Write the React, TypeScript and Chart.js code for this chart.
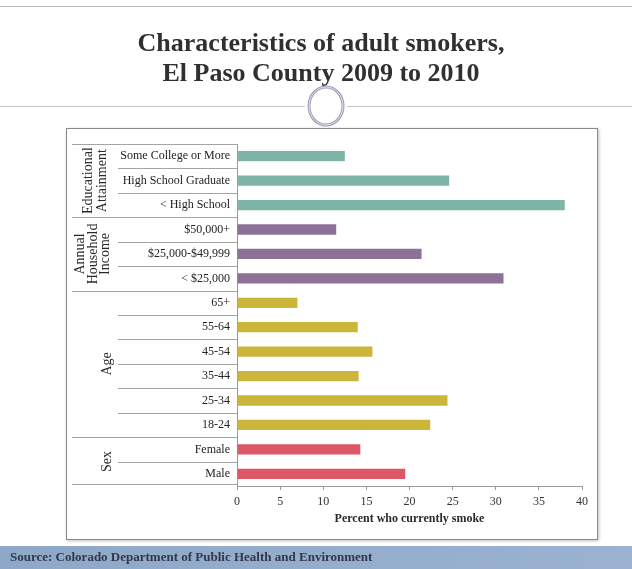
import React, { useEffect, useRef } from "react";
import { Chart, registerables } from "chart.js";

Chart.register(...registerables);

// Rows, top to bottom
const categories = [
  "Some College or More",
  "High School Graduate",
  "< High School",
  "$50,000+",
  "$25,000-$49,999",
  "< $25,000",
  "65+",
  "55-64",
  "45-54",
  "35-44",
  "25-34",
  "18-24",
  "Female",
  "Male",
];

// Percent who currently smoke
const smokerPercent = [12.5, 24.6, 38.0, 11.5, 21.4, 30.9, 7.0, 14.0, 15.7, 14.1, 24.4, 22.4, 14.3, 19.5];

// Characteristic groups: label lines, first row, last row, bar colour
const groupLabels = [["Educational", "Attainment"], ["Annual", "Household", "Income"], ["Age"], ["Sex"]];
const groupStart = [0, 3, 6, 12];
const groupEnd = [2, 5, 11, 13];
const groupColors = ["#7fb5a7", "#8d7197", "#cbb63a", "#dd5767"];

const xTicksMax = 40;
const xTickStep = 5;

const titleLines = ["Characteristics of adult smokers,", "El Paso County 2009 to 2010"];
const xAxisTitle = "Percent who currently smoke";
const sourceNote = "Source: Colorado Department of Public Health and Environment";

const SERIF = "'Liberation Serif', 'DejaVu Serif', serif";

function barColors(): string[] {
  const out: string[] = [];
  categories.forEach((_, i) => {
    const g = groupStart.findIndex((s, k) => i >= s && i <= groupEnd[k]);
    out.push(groupColors[g]);
  });
  return out;
}

const decorPlugin = {
  id: "slideDecor",
  beforeDraw(chart: any) {
    const ctx = chart.ctx as CanvasRenderingContext2D;
    const W = chart.width;
    const H = chart.height;
    ctx.save();
    ctx.fillStyle = "#ffffff";
    ctx.fillRect(0, 0, W, H);

    // thin rule at top
    ctx.strokeStyle = "#b9b9b9";
    ctx.lineWidth = 1;
    ctx.beginPath();
    ctx.moveTo(0, 6.5);
    ctx.lineTo(W, 6.5);
    ctx.stroke();

    // title
    ctx.fillStyle = "#303030";
    ctx.font = `bold 26px ${SERIF}`;
    ctx.textAlign = "center";
    ctx.textBaseline = "alphabetic";
    ctx.fillText(titleLines[0], 321, 51);
    ctx.fillText(titleLines[1], 321, 81);

    // divider with ring
    const cx = 326;
    const cy = 106;
    ctx.strokeStyle = "#c4c4c4";
    ctx.lineWidth = 1;
    ctx.beginPath();
    ctx.moveTo(0, cy + 0.5);
    ctx.lineTo(cx - 21, cy + 0.5);
    ctx.moveTo(cx + 21, cy + 0.5);
    ctx.lineTo(W, cy + 0.5);
    ctx.stroke();
    ctx.strokeStyle = "#9c9cb8";
    ctx.lineWidth = 3;
    ctx.beginPath();
    ctx.ellipse(cx, cy, 17, 19, 0, 0, Math.PI * 2);
    ctx.stroke();
    ctx.strokeStyle = "#e6e6ee";
    ctx.lineWidth = 1;
    ctx.beginPath();
    ctx.ellipse(cx, cy, 17, 19, 0, 0, Math.PI * 2);
    ctx.stroke();

    // chart frame
    ctx.shadowColor = "rgba(0,0,0,0.25)";
    ctx.shadowBlur = 3;
    ctx.shadowOffsetX = 1;
    ctx.shadowOffsetY = 1;
    ctx.fillStyle = "#ffffff";
    ctx.fillRect(66, 128, 532, 412);
    ctx.shadowColor = "transparent";
    ctx.strokeStyle = "#8a8a8a";
    ctx.lineWidth = 1;
    ctx.strokeRect(66.5, 128.5, 531, 411);

    // source band
    const grad = ctx.createLinearGradient(0, 0, W, 0);
    grad.addColorStop(0, "#8ea8c9");
    grad.addColorStop(1, "#9bb2d1");
    ctx.fillStyle = grad;
    ctx.fillRect(0, 546, W, H - 546);
    ctx.fillStyle = "#33374a";
    ctx.font = `bold 13px ${SERIF}`;
    ctx.textAlign = "left";
    ctx.textBaseline = "middle";
    ctx.fillText(sourceNote, 10, 558);
    ctx.restore();
  },
  afterDraw(chart: any) {
    const ctx = chart.ctx as CanvasRenderingContext2D;
    const yScale = chart.scales.y;
    const area = chart.chartArea;
    const left = area.left;
    const pix = (i: number) => yScale.getPixelForValue(i);
    const boundary = (i: number) => {
      if (i < 0) return area.top;
      if (i >= categories.length - 1) return area.bottom;
      return (pix(i) + pix(i + 1)) / 2;
    };
    ctx.save();
    ctx.strokeStyle = "#a5a5a5";
    ctx.lineWidth = 1;
    // row dividers inside each group
    categories.forEach((_, i) => {
      if (i === categories.length - 1) return;
      const isGroupEnd = groupEnd.includes(i);
      const y = Math.round(boundary(i)) + 0.5;
      ctx.beginPath();
      ctx.moveTo(isGroupEnd ? 72 : 118, y);
      ctx.lineTo(left, y);
      ctx.stroke();
    });
    // top and bottom table rules
    [area.top, area.bottom - 2].forEach((yy) => {
      const y = Math.round(yy) + 0.5;
      ctx.beginPath();
      ctx.moveTo(72, y);
      ctx.lineTo(left, y);
      ctx.stroke();
    });

    // rotated group names
    ctx.fillStyle = "#2a2a2a";
    ctx.font = `14px ${SERIF}`;
    ctx.textAlign = "center";
    ctx.textBaseline = "middle";
    const colX = [[88, 102], [80, 93, 105], [107], [107]];
    groupLabels.forEach((lines, g) => {
      const yc = (boundary(groupStart[g] - 1) + boundary(groupEnd[g])) / 2;
      lines.forEach((line, k) => {
        ctx.save();
        ctx.translate(colX[g][k], yc);
        ctx.rotate(-Math.PI / 2);
        ctx.fillText(line, 0, 0);
        ctx.restore();
      });
    });

    // x axis title
    ctx.fillStyle = "#2a2a2a";
    ctx.font = `bold 12px ${SERIF}`;
    ctx.fillText(xAxisTitle, (area.left + area.right) / 2, 519);
    ctx.restore();
  },
};

export default function App() {
  const canvasRef = useRef<HTMLCanvasElement | null>(null);

  useEffect(() => {
    const canvas = canvasRef.current;
    if (!canvas) return;
    const chart = new Chart(canvas, {
      type: "bar",
      data: {
        labels: categories,
        datasets: [
          {
            label: xAxisTitle,
            data: smokerPercent,
            backgroundColor: barColors(),
            borderWidth: 0,
            barPercentage: 0.42,
            categoryPercentage: 1,
          },
        ],
      },
      options: {
        indexAxis: "y",
        responsive: false,
        animation: false,
        layout: { padding: { left: 0, right: 50, top: 144, bottom: 0 } },
        plugins: {
          legend: { display: false },
          tooltip: { enabled: false },
          title: { display: false },
        },
        scales: {
          y: {
            type: "category",
            afterFit: (s: any) => {
              s.width = 237;
            },
            grid: { display: false, drawTicks: false },
            border: { display: true, color: "#9a9a9a" },
            ticks: {
              color: "#222222",
              padding: 7,
              font: { family: SERIF, size: 12 },
            },
          },
          x: {
            min: 0,
            max: xTicksMax,
            afterFit: (s: any) => {
              s.height = 83;
            },
            grid: { drawOnChartArea: false, drawTicks: true, tickLength: 4, color: "#9a9a9a" },
            border: { display: true, color: "#9a9a9a" },
            ticks: {
              stepSize: xTickStep,
              color: "#333333",
              padding: 5,
              font: { family: SERIF, size: 12 },
            },
          },
        },
      },
      plugins: [decorPlugin],
    });
    return () => chart.destroy();
  }, []);

  return (
    <div style={{ position: "absolute", left: 0, top: 0, width: 632, height: 569 }}>
      <canvas ref={canvasRef} width={632} height={569} style={{ display: "block" }} />
    </div>
  );
}
